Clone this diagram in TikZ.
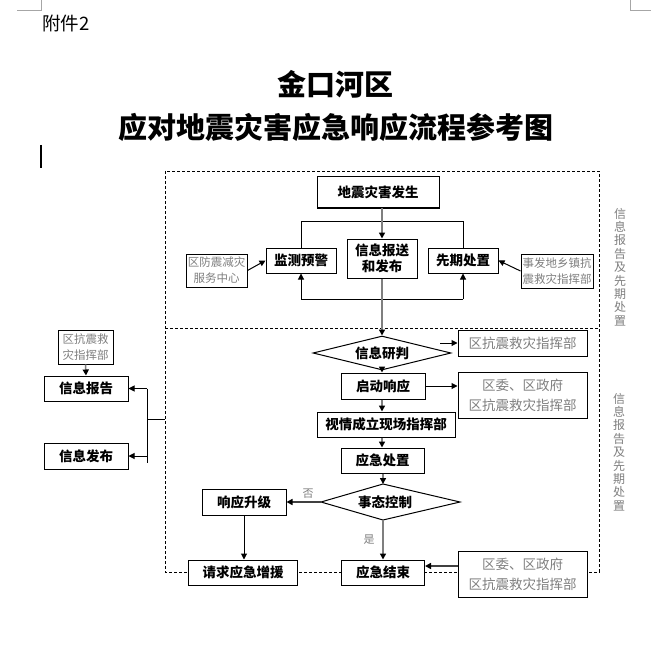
\documentclass[tikz,border=0pt]{standalone}
\usepackage{fontspec}
\newfontfamily\cjk{Noto Sans CJK SC}
\usetikzlibrary{arrows.meta,shapes.geometric}
\definecolor{lg}{HTML}{7F7F7F}
\begin{document}
\begin{tikzpicture}[x=1pt,y=-1pt,
  box/.style={draw=black,line width=1pt,fill=white,inner sep=0pt,align=center,
    font=\cjk\bfseries\fontsize{13.5}{16}\selectfont},
  gbox/.style={draw=black,line width=1pt,fill=white,inner sep=0pt,align=center,text=lg,
    font=\cjk\fontsize{13.5}{20}\selectfont},
  sbox/.style={draw=black,line width=1pt,fill=white,inner sep=0pt,align=center,text=lg,
    font=\cjk\fontsize{11.5}{16}\selectfont},
  dia/.style={diamond,aspect=4,draw=black,line width=1pt,fill=white,inner sep=0pt,
    font=\cjk\bfseries\fontsize{13.5}{16}\selectfont},
  plain/.style={inner sep=0pt,align=center,font=\cjk\bfseries\fontsize{13.5}{16}\selectfont},
  flow/.style={draw=lg,line width=1.5pt,-{Triangle[length=6pt,width=6pt,color=black]}},
  thinarr/.style={draw=black,line width=1pt,-{Triangle[length=6pt,width=6pt,color=black]}},
  thin/.style={draw=black,line width=1pt},
  vtext/.style={inner sep=0pt,align=center,text=lg,font=\cjk\fontsize{12}{13.4}\selectfont},
  lbl/.style={inner sep=0pt,text=lg,font=\cjk\fontsize{11}{13}\selectfont},
  dashbox/.style={draw=black,line width=0.8pt,dash pattern=on 3pt off 2pt}
]
\useasboundingbox[fill=white] (0,0) rectangle (651,652);

% page corner marks and header
\draw[gray!70,line width=0.8pt] (17,10) -- (41,10) -- (41,0);
\draw[gray!70,line width=0.8pt] (630,0) -- (630,10) -- (651,10);
\node[anchor=west,inner sep=0pt,font=\cjk\fontsize{18.5}{20}\selectfont] (att) at (42,23) {附件2};
\node[inner sep=0pt,font=\cjk\bfseries\fontsize{29}{32}\selectfont] (t1) at (335,84) {金口河区};
\node[inner sep=0pt,font=\cjk\bfseries\fontsize{29}{32}\selectfont] (t2) at (335.5,127) {应对地震灾害应急响应流程参考图};
\draw[line width=1.6pt] (41,145) -- (41,168);

% dashed frame
\draw[dashbox] (165,171) rectangle (599,572);
\draw[dashbox] (165,328) -- (599,328);

% vertical side texts
\node[vtext] (v1) at (620,267) {信\\息\\报\\告\\及\\先\\期\\处\\置};
\node[vtext] (v2) at (619,452) {信\\息\\报\\告\\及\\先\\期\\处\\置};

% top section
\node[box,minimum width=122,minimum height=31] (jzfs) at (378,192.5) {地震灾害发生};
\node[box,minimum width=70,minimum height=39] (xbs) at (382,258.5) {信息报送\\和发布};
\node[box,minimum width=70,minimum height=25] (jc) at (301,260.5) {监测预警};
\node[box,minimum width=70,minimum height=25] (xq) at (463,260.5) {先期处置};
\node[sbox,minimum width=61,minimum height=33] (fz) at (216.5,270.5) {区防震减灾\\服务中心};
\node[sbox,minimum width=72,minimum height=34] (sf) at (557,271) {事发地乡镇抗\\震救灾指挥部};

\coordinate (lb) at (301,299);
\coordinate (rb) at (463,299);
\draw[thin] (jc.north) -- ++(0,-26) -| (xq.north);
\draw[thin] (lb) -- (rb);
\draw[thinarr] (lb) -- (jc.south);
\draw[thinarr] (rb) -- (xq.south);
\draw[thinarr] (fz.east) -- (jc.west);
\draw[thinarr] (sf.west) -- (xq.east);

% middle section
\node[dia,minimum width=138,minimum height=34] (d1) at (382,353) {信息研判};
\node[gbox,minimum width=129,minimum height=26] (zh1) at (522.5,343) {区抗震救灾指挥部};
\coordinate (a1) at (440,343);
\node[box,minimum width=84,minimum height=26] (qd) at (383,386) {启动响应};
\node[gbox,minimum width=129,minimum height=46] (zh2) at (522.5,395) {区委、区政府\\区抗震救灾指挥部};
\node[box,minimum width=138,minimum height=25] (sq) at (386,424.5) {视情成立现场指挥部};
\node[box,minimum width=83,minimum height=25] (yc) at (382.5,460.5) {应急处置};

\draw[flow] (xbs.north |- jzfs.south) -- (xbs.north);
\draw[flow] (xbs.south) -- (d1.north);
\draw[flow] (d1.south) -- (d1.south |- qd.north);
\draw[flow] (d1.south |- qd.south) -- (d1.south |- sq.north);
\draw[flow] (d1.south |- sq.south) -- (d1.south |- yc.north);
\draw[thinarr] (a1) -- (zh1.west |- a1);
\draw[thinarr] (qd.east) -- (qd.east -| zh2.west);

% decision 2
\coordinate (d2t) at (383,484);
\coordinate (d2l) at (321,502);
\coordinate (d2b) at (383,520);
\coordinate (d2r) at (460,502);
\draw[line width=1pt,fill=white] (d2t) -- (d2r) -- (d2b) -- (d2l) -- cycle;
\node[plain] (d2) at (385,502.5) {事态控制};
\draw[flow] (d2t |- yc.south) -- (d2t);

\node[box,minimum width=84,minimum height=26] (xs) at (244,502) {响应升级};
\node[box,minimum width=109,minimum height=25] (qq) at (243,572.5) {请求应急增援};
\node[box,minimum width=83,minimum height=25] (js) at (383,572.5) {应急结束};
\node[gbox,minimum width=129,minimum height=46] (zh3) at (522.5,574) {区委、区政府\\区抗震救灾指挥部};

\draw[flow,draw=black!75] (d2l) -- (xs.east);
\node[lbl] (no) at (308,494) {否};
\draw[thinarr] (xs.south) -- (xs.south |- qq.north);
\draw[flow] (d2b) -- (d2b |- js.north);
\node[lbl] (yes) at (369,540) {是};
\draw[flow,draw=black!75] ([yshift=8pt]zh3.west) -- ([yshift=8pt]zh3.west -| js.east);

% left column
\node[sbox,minimum width=55,minimum height=34] (kz) at (85.5,347) {区抗震救\\灾指挥部};
\node[box,minimum width=84,minimum height=25] (xb) at (86,388.5) {信息报告};
\node[box,minimum width=84,minimum height=26] (xf) at (86,456) {信息发布};
\draw[flow] (kz.south) -- (xb.north);
\coordinate (bt) at (147,388.5);
\coordinate (bb) at (147,463);
\coordinate (bm) at (147,419);
\coordinate (bo) at (165,419);
\draw[thin] (bt) -- (bb);
\draw[thin] (bm) -- (bo);
\draw[thinarr] (bt) -- (xb.east);
\draw[thinarr] (bt |- xf.east) -- (xf.east);
\end{tikzpicture}
\end{document}
